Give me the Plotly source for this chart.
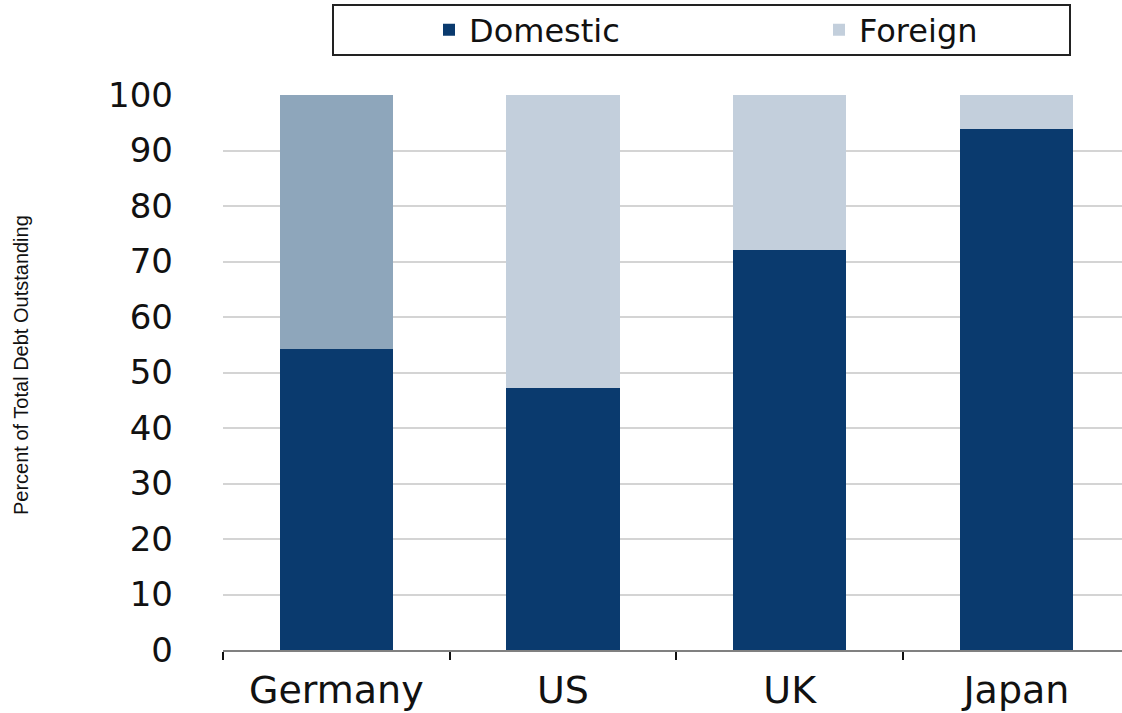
import plotly.graph_objects as go

countries = ["Germany", "US", "UK", "Japan"]
domestic = [54.3, 47.2, 72.0, 93.9]
foreign = [45.7, 52.8, 28.0, 6.1]
y_ticks = [0, 10, 20, 30, 40, 50, 60, 70, 80, 90, 100]

dom_color = "#0A3A6E"
for_color = "#C3CFDC"
germany_for_color = "#8EA6BB"

W, H = 1122, 713
ml, mr, mt, mb = 223, 0, 95, 63
pw, ph = W - ml - mr, H - mt - mb

def px_x(p):
    return (p - ml) / pw

def px_y(p):
    return (H - mb - p) / ph

fig = go.Figure()
fig.add_trace(go.Bar(x=countries, y=domestic, name="Domestic",
                     marker=dict(color=dom_color, line=dict(width=0)), width=0.5))
fig.add_trace(go.Bar(x=countries[1:], y=foreign[1:], name="Foreign",
                     marker=dict(color=for_color, line=dict(width=0)), width=0.5))
fig.add_trace(go.Bar(x=countries[:1], y=foreign[:1], name="Foreign", showlegend=False,
                     marker=dict(color=germany_for_color, line=dict(width=0)), width=0.5))

fig.update_layout(
    barmode="stack",
    width=W, height=H,
    margin=dict(l=ml, r=mr, t=mt, b=mb, autoexpand=False),
    plot_bgcolor="white", paper_bgcolor="white",
    font=dict(family="DejaVu Sans", color="#111111"),
    showlegend=True,
    legend=dict(orientation="h", traceorder="normal", x=px_x(429), xanchor="left",
                y=px_y(30), yanchor="middle",
                font=dict(size=32, family="DejaVu Sans", color="#111111"),
                entrywidth=345, entrywidthmode="pixels",
                bgcolor="rgba(0,0,0,0)", borderwidth=0),
    xaxis=dict(range=[-0.5, 3.466], showgrid=False,
               categoryorder="array", categoryarray=countries,
               showline=True, linecolor="#808080", linewidth=2,
               ticks="outside", tickson="boundaries", ticklen=8, tickwidth=2,
               tickcolor="#111111", ticklabelstandoff=5,
               tickfont=dict(size=38, family="DejaVu Sans", color="#111111")),
    yaxis=dict(range=[0, 100], tickvals=y_ticks, showgrid=True,
               gridcolor="#D4D4D4", gridwidth=2, zeroline=False,
               showline=False, ticks="", ticklabelstandoff=49,
               tickfont=dict(size=34, family="DejaVu Sans", color="#111111")),
)

fig.add_shape(type="rect", xref="paper", yref="paper",
              x0=px_x(333), x1=px_x(1070), y0=px_y(55), y1=px_y(5),
              line=dict(color="#222222", width=2), fillcolor="rgba(0,0,0,0)")

fig.add_annotation(text="Percent of Total Debt Outstanding", xref="paper", yref="paper",
                   x=px_x(21), y=px_y(365), textangle=-90, showarrow=False,
                   font=dict(size=20, family="Liberation Sans", color="#111111"),
                   xanchor="center", yanchor="middle")

fig.write_html("out.html", config={"displayModeBar": False},
               post_script="document.body.style.margin='0';")
